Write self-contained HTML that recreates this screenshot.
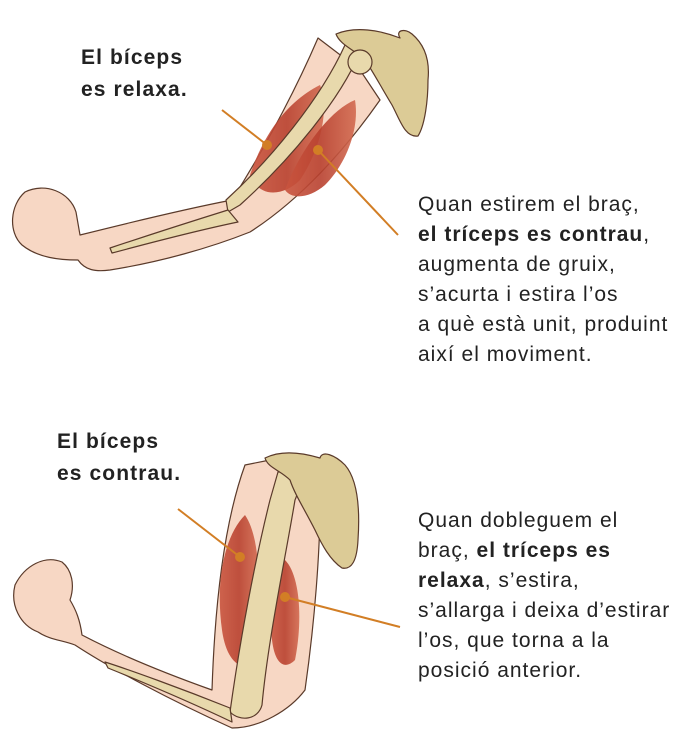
<!DOCTYPE html>
<html><head><meta charset="utf-8"><style>
body{margin:0;background:#fff;width:700px;height:750px;overflow:hidden;position:relative;font-family:"Liberation Sans",sans-serif;color:#222}
.t{position:absolute;font-size:21px;line-height:30px;letter-spacing:1px}
.b{font-weight:bold}
.l{font-size:21px;letter-spacing:1.1px}
</style></head><body>
<svg width="700" height="750" style="position:absolute;left:0;top:0">
<defs>
<linearGradient id="m" x1="0" x2="1"><stop offset="0" stop-color="#c9553f"/><stop offset=".5" stop-color="#b8402e"/><stop offset="1" stop-color="#d26a50"/></linearGradient>
</defs>
<g stroke="#5a3a2a" stroke-width="1.2" stroke-linejoin="round">
<path d="M318,38 C300,80 270,140 232,200 C180,210 120,225 80,235 L76,212 C70,192 45,182 25,192 C10,205 8,232 22,245 C38,258 60,260 78,260 C85,270 95,272 110,270 C160,262 210,248 250,232 C300,200 345,150 380,100 L360,70 Z" fill="#f7d7c4"/>
<path d="M250,175 C265,130 290,100 320,85 C330,110 320,150 300,180 C285,195 260,200 250,175Z" fill="url(#m)" stroke="none" opacity=".9"/>
<path d="M285,190 C300,150 330,110 355,100 C360,130 345,165 325,185 C310,198 292,200 285,190Z" fill="url(#m)" stroke="none" opacity=".9"/>
<path d="M345,45 L360,52 C340,100 290,160 240,205 L228,212 L226,200 C270,160 320,100 345,45Z" fill="#e8d9ac"/>
<path d="M228,210 C180,225 140,238 110,248 L112,253 C150,243 190,232 238,222Z" fill="#e8d9ac"/>
<path d="M336,34 C355,26 380,30 400,38 C395,30 405,28 412,34 C425,45 430,60 428,80 C428,100 425,125 418,136 C405,138 400,120 392,105 C380,85 372,70 365,60 C355,50 340,45 336,34Z" fill="#dccb96"/>
<circle cx="360" cy="62" r="12" fill="#e8d9ac"/>
<path d="M245,465 C225,520 215,600 212,690 C170,675 120,655 82,635 C80,620 76,610 70,600 C75,585 72,570 62,562 C45,555 25,565 15,585 C10,605 20,625 38,632 C50,640 62,640 75,645 C110,668 170,700 232,728 C260,728 290,710 305,690 C315,620 320,550 320,505 C315,485 295,465 270,460Z" fill="#f7d7c4"/>
<path d="M222,630 C215,580 225,535 245,515 C262,540 262,600 250,665 C240,670 226,660 222,630Z" fill="url(#m)" stroke="none" opacity=".9"/>
<path d="M272,640 C268,600 272,570 285,560 C300,575 303,620 295,660 C285,670 275,665 272,640Z" fill="url(#m)" stroke="none" opacity=".9"/>
<path d="M278,472 C295,470 302,485 295,500 C285,560 268,640 262,705 C258,720 240,722 230,712 C240,640 255,560 270,500Z" fill="#e8d9ac"/>
<path d="M230,708 C180,688 130,670 105,662 L108,668 C150,685 190,702 232,722Z" fill="#e8d9ac"/>
<path d="M265,458 C285,448 310,455 320,458 C322,450 335,455 345,465 C358,480 360,510 358,540 C357,560 352,570 342,568 C330,560 322,545 315,530 C305,510 295,495 290,480 C280,470 268,468 265,458Z" fill="#dccb96"/>
</g>
<g stroke="#d27e25" stroke-width="2" fill="#d27e25">
<line x1="222" y1="110" x2="267" y2="145"/><circle cx="267" cy="145" r="4"/>
<line x1="318" y1="150" x2="398" y2="235"/><circle cx="318" cy="150" r="4"/>
<line x1="178" y1="509" x2="240" y2="557"/><circle cx="240" cy="557" r="4"/>
<line x1="285" y1="597" x2="400" y2="627"/><circle cx="285" cy="597" r="4"/>
</g>
</svg>
<div class="t b l" style="left:81px;top:42px;line-height:32px">El bíceps<br>es relaxa.</div>
<div class="t" style="left:418px;top:190px">Quan estirem el braç,<br><b>el tríceps es contrau</b>,<br>augmenta de gruix,<br>s’acurta i estira l’os<br>a què està unit, produint<br>així el moviment.</div>
<div class="t b l" style="left:57px;top:426px;line-height:32px">El bíceps<br>es contrau.</div>
<div class="t" style="left:418px;top:506px">Quan dobleguem el<br>braç, <b>el tríceps es<br>relaxa</b>, s’estira,<br>s’allarga i deixa d’estirar<br>l’os, que torna a la<br>posició anterior.</div>
</body></html>
